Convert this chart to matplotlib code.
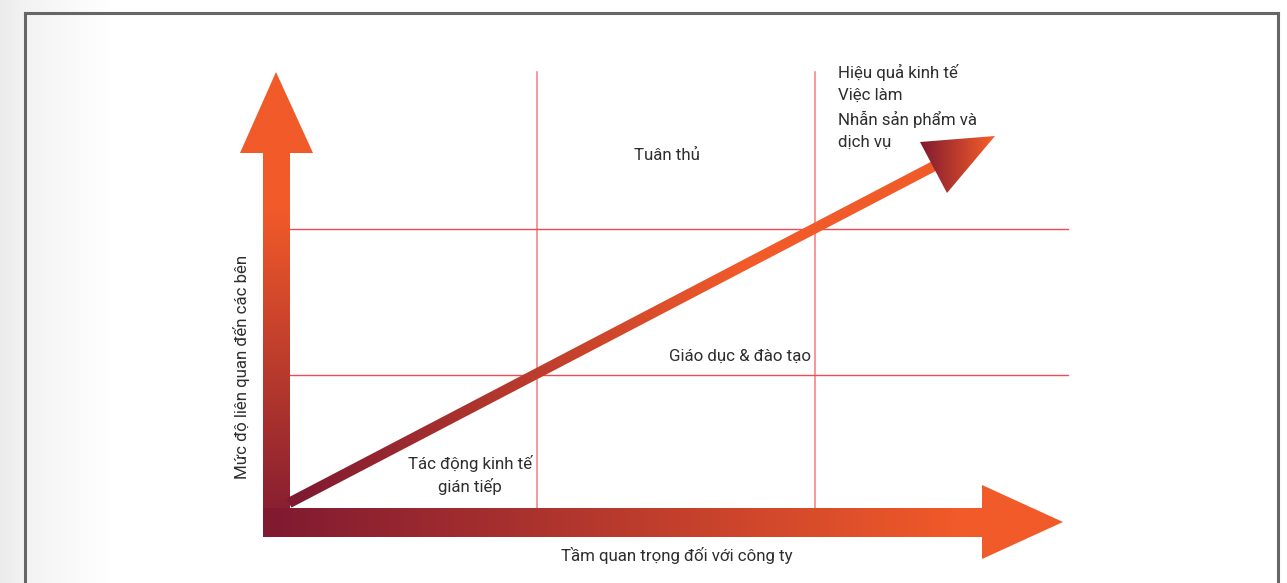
import numpy as np
import matplotlib
matplotlib.use("Agg")
import matplotlib.pyplot as plt
from matplotlib.patches import Polygon
from matplotlib.colors import LinearSegmentedColormap

# ---- data (texts) ----
x_label = "Tầm quan trọng đối với công ty"
y_label = "Mức độ liên quan đến các bên"
label_low = "Tác động kinh tế\ngián tiếp"
label_mid = "Giáo dục & đào tạo"
label_top_mid = "Tuân thủ"
label_high = ["Hiệu quả kinh tế", "Việc làm", "Nhẫn sản phẩm và", "dịch vụ"]
# grid breakpoints (importance / relevance levels on the canvas scale)
x_breaks = [537, 815]
y_breaks = [229, 375]

W, H = 1287, 583
fig = plt.figure(figsize=(W / 100, H / 100), dpi=100)
ax = fig.add_axes([0, 0, 1, 1])
ax.set_xlim(0, W)
ax.set_ylim(H, 0)
ax.axis("off")

FONT = ["Liberation Sans Narrow", "Roboto", "DejaVu Sans"]
TXT = "#2e2e2e"
ORANGE = "#F15A29"
MAROON = "#801A31"
cmap = LinearSegmentedColormap.from_list("g", [MAROON, ORANGE])

# background left strip gradient
bg = np.linspace(0, 1, 200)[None, :]
bgc = LinearSegmentedColormap.from_list("bg", [(0, "#ebebeb"), (0.23, "#f3f3f3"), (1, "#ffffff")])
ax.imshow(bg, cmap=bgc, extent=[0, 110, H, 0], aspect="auto", zorder=0)

# frame
ax.plot([25, 1277.5], [13, 13], color="#666666", lw=2.2, zorder=1, solid_capstyle="projecting")
ax.plot([25, 25], [13, H + 2], color="#666666", lw=2.2, zorder=1)
ax.plot([1277.5, 1277.5], [13, H + 2], color="#666666", lw=2.2, zorder=1)


def grad_poly(pts, x0, x1, y0, y1, direction, zorder):
    poly = Polygon(pts, closed=True, facecolor="none", edgecolor="none")
    ax.add_patch(poly)
    xs = [p[0] for p in pts]
    ys = [p[1] for p in pts]
    ext = [min(xs) - 1, max(xs) + 1, max(ys) + 1, min(ys) - 1]
    if direction == "x":
        X = np.linspace(ext[0], ext[1], 600)
        v = np.clip((X - x0) / (x1 - x0), 0, 1)[None, :]
    else:
        Y = np.linspace(ext[3], ext[2], 600)
        v = np.clip((Y - y0) / (y1 - y0), 0, 1)[:, None]
    im = ax.imshow(v, cmap=cmap, vmin=0, vmax=1, extent=[ext[0], ext[1], ext[2], ext[3]],
                   aspect="auto", interpolation="bilinear", zorder=zorder)
    im.set_clip_path(poly)


# grid lines
for xb in x_breaks:
    ax.plot([xb, xb], [72, 508], color="#F27A80", lw=1.1, zorder=2)
for yb in y_breaks:
    ax.plot([290, 1068], [yb, yb], color="#EE4C55", lw=1.0, zorder=2)

# vertical arrow (orange top -> maroon bottom)
vpts = [(263, 537), (263, 153), (240, 153), (276, 72), (313, 153), (290, 153), (290, 537)]
grad_poly(vpts, 0, 0, 535, 210, "y", 3)

# horizontal arrow (maroon left -> orange right)
hpts = [(263, 508), (982, 508), (982, 485), (1063, 522), (982, 559), (982, 537), (263, 537)]
grad_poly(hpts, 270, 960, 0, 0, "x", 3)

# diagonal arrow shaft
p0 = np.array([289.0, 503.0])
p1 = np.array([936.0, 165.0])
d = (p1 - p0) / np.linalg.norm(p1 - p0)
n = np.array([-d[1], d[0]]) * 5.2
spts = [tuple(p0 + n), tuple(p1 + n), tuple(p1 - n), tuple(p0 - n)]
grad_poly(spts, 300, 740, 0, 0, "x", 4)
# diagonal arrow head
head = [(920, 142), (995, 136), (947, 193)]
grad_poly(head, 920, 990, 0, 0, "x", 5)

# texts
fs = 12.2
ax.text(667, 155, label_top_mid, ha="center", va="center", fontsize=fs, color=TXT, family=FONT, zorder=6)
ax.text(740, 356, label_mid, ha="center", va="center", fontsize=fs, color=TXT, family=FONT, zorder=6)
ax.text(470, 475, label_low, ha="center", va="center", fontsize=fs, color=TXT, family=FONT,
        linespacing=1.45, zorder=6)
ax.text(838, 64, "\n".join(label_high), ha="left", va="top", fontsize=fs, color=TXT, family=FONT,
        linespacing=1.58, zorder=6)
ax.text(241, 367, y_label, ha="center", va="center", rotation=90, fontsize=fs, color=TXT,
        family=FONT, zorder=6)
ax.text(677, 556, x_label, ha="center", va="center", fontsize=fs, color=TXT, family=FONT, zorder=6)

fig.savefig("out.png", dpi=100)
